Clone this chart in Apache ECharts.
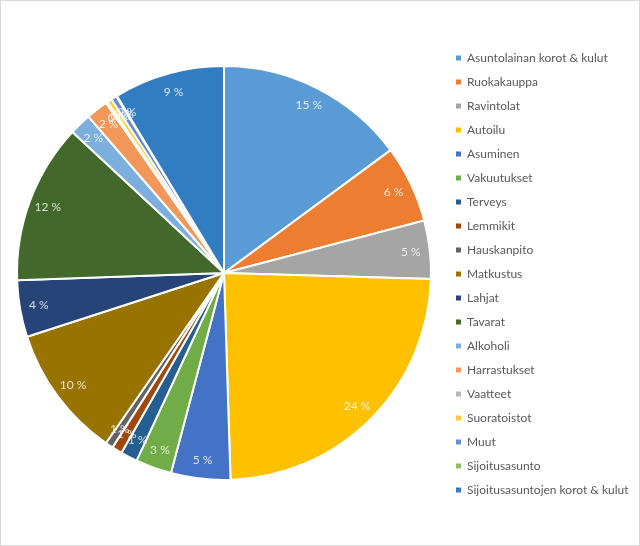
<!DOCTYPE html>
<html>
<head>
<meta charset="utf-8">
<script src="https://cdn.jsdelivr.net/npm/echarts@6/dist/echarts.min.js"></script>
<style>
html,body{margin:0;padding:0;background:#fff;}
#wrap{position:relative;width:640px;height:546px;}
#chart{position:absolute;left:0;top:0;width:640px;height:546px;}
#frame{position:absolute;left:0;top:0;width:640px;height:546px;box-sizing:border-box;border:1px solid #d9d9d9;pointer-events:none;}
</style>
</head>
<body>
<div id="wrap"><div id="chart"></div><div id="frame"></div></div>
<script>
const categories = [
  "Asuntolainan korot & kulut", "Ruokakauppa", "Ravintolat", "Autoilu", "Asuminen",
  "Vakuutukset", "Terveys", "Lemmikit", "Hauskanpito", "Matkustus", "Lahjat",
  "Tavarat", "Alkoholi", "Harrastukset", "Vaatteet", "Suoratoistot", "Muut",
  "Sijoitusasunto", "Sijoitusasuntojen korot & kulut"
];
const shares = [14.8, 6.0, 4.5, 23.9, 4.6, 2.8, 1.3, 0.8, 0.6, 10.3, 4.4, 12.4, 1.7, 1.7, 0.15, 0.35, 0.45, 0.05, 8.6];
const colors = ["#5B9BD5", "#ED7D31", "#A5A5A5", "#FFC000", "#4472C4", "#70AD47", "#255E91", "#9E480E", "#636363", "#997300", "#264478", "#43682B", "#7CAFDD", "#F1975A", "#B7B7B7", "#FFCD33", "#698ED0", "#8CC168", "#327DC2"];

const total = shares.reduce((a, b) => a + b, 0);
const data = categories.map((n, i) => ({ name: n, value: shares[i], itemStyle: { color: colors[i] } }));

// label anchor points: mid-angle of each slice, placed near the outer edge (polar coords)
const PIE_R = 207;
const LABEL_R = 188;
let cum = 0;
const labelPoints = shares.map((v, i) => {
  const mid = cum + v / 2;
  cum += v;
  return { value: [LABEL_R, mid], pct: Math.round(v / total * 100) };
});

const chart = echarts.init(document.getElementById('chart'), null, { renderer: 'canvas' });
chart.setOption({
  animation: false,
  color: colors,
  legend: {
    orient: 'vertical',
    left: 449,
    top: 46,
    itemWidth: 7,
    itemHeight: 7,
    itemGap: 10,
    icon: 'rect',
    data: categories,
    textStyle: { fontFamily: 'Lato', fontSize: 12, color: '#595959', lineHeight: 14 }
  },
  polar: { center: [224, 273], radius: PIE_R },
  angleAxis: {
    type: 'value', min: 0, max: total, startAngle: 90, clockwise: true,
    axisLine: { show: false }, axisTick: { show: false }, axisLabel: { show: false }, splitLine: { show: false }
  },
  radiusAxis: {
    type: 'value', min: 0, max: PIE_R,
    axisLine: { show: false }, axisTick: { show: false }, axisLabel: { show: false }, splitLine: { show: false }
  },
  series: [
    {
      type: 'pie',
      center: [224, 273],
      radius: [0, PIE_R],
      startAngle: 90,
      clockwise: true,
      minAngle: 0,
      avoidLabelOverlap: false,
      itemStyle: { borderColor: '#fff', borderWidth: 2 },
      label: { show: false },
      labelLine: { show: false },
      emphasis: { disabled: true },
      data: data
    },
    {
      type: 'scatter',
      coordinateSystem: 'polar',
      silent: true,
      symbolSize: 0,
      z: 10,
      label: {
        show: true,
        position: 'inside',
        color: '#fff',
        fontFamily: 'Lato',
        fontSize: 12,
        formatter: p => p.data.pct + ' %'
      },
      labelLayout: { hideOverlap: false },
      data: labelPoints
    }
  ]
});
</script>
</body>
</html>
